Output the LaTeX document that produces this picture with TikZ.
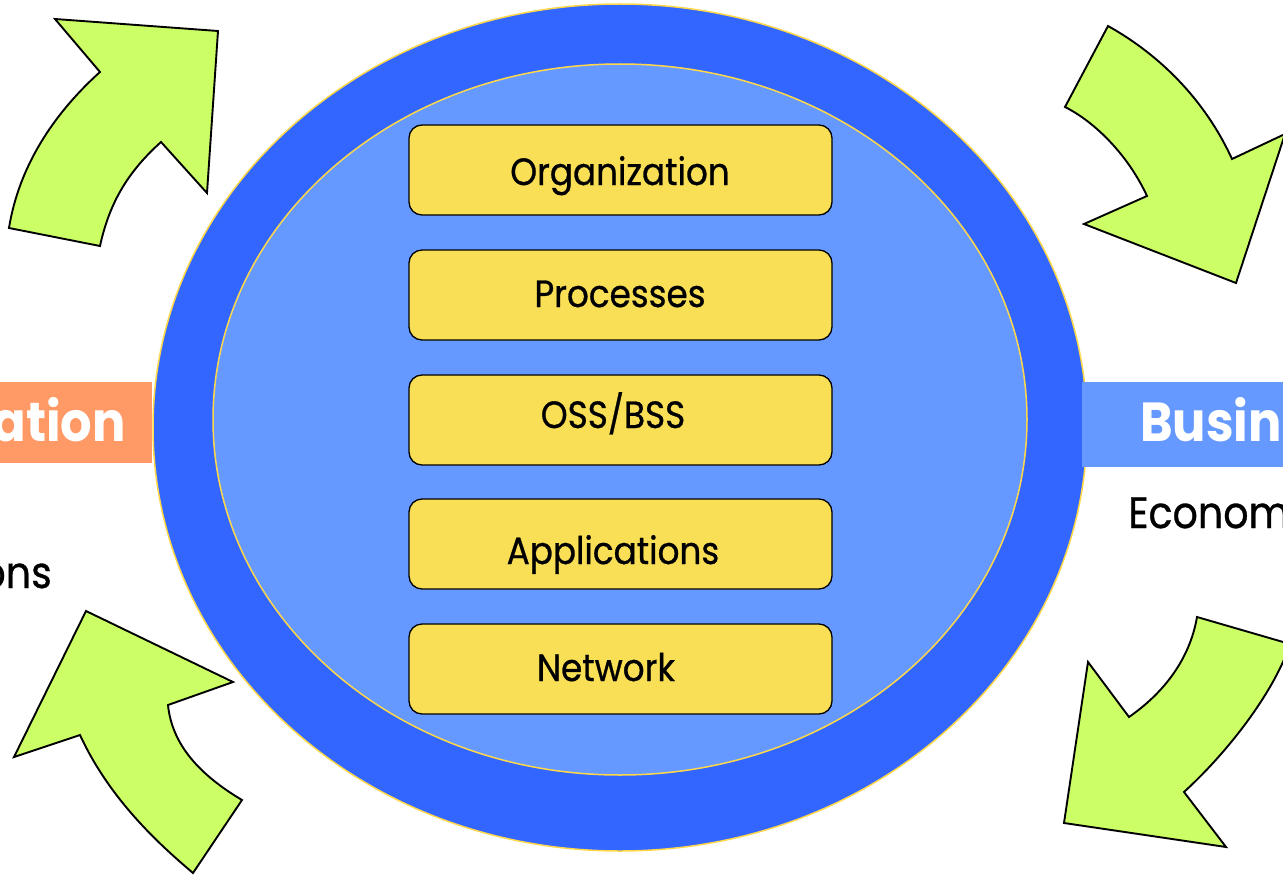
\documentclass[tikz,border=0pt]{standalone}
\usepackage{fontspec}
\setmainfont{Poppins}[FakeStretch=0.9]
\newfontfamily\layerfont{Poppins}[FakeStretch=0.9,FakeBold=0.7]
\definecolor{outerblue}{HTML}{3366FF}
\definecolor{innerblue}{HTML}{6699FF}
\definecolor{ringyellow}{HTML}{FFD84A}
\definecolor{boxyellow}{HTML}{F9DF55}
\definecolor{tagorange}{HTML}{FF9966}
\definecolor{arrowgreen}{HTML}{CCFF66}
\begin{document}
\begin{tikzpicture}[x=1pt,y=-1pt,
  layerbox/.style={draw=black, line width=1.3pt, fill=boxyellow, rounded corners=13pt,
    minimum width=423pt, minimum height=90pt, inner sep=0pt},
  layertext/.style={anchor=base, inner sep=0pt, font=\layerfont\fontsize{38}{44}\selectfont},
  tagbox/.style={draw=none, inner sep=0pt, anchor=north west},
  tagtext/.style={anchor=base, inner sep=0pt, text=white, font=\fontsize{55}{60}\selectfont\bfseries},
  sidetext/.style={anchor=base, inner sep=0pt, font=\layerfont\fontsize{44}{50}\selectfont},
  bigarrow/.style={fill=arrowgreen, draw=black, line width=1.9pt, line join=miter},
  ring/.style={draw=ringyellow, line width=1.5pt}]
\useasboundingbox (0,0) rectangle (1283,875);
\clip (0,0) rectangle (1283,875);

% left tag
\node[tagbox, fill=tagorange, minimum width=152pt, minimum height=81pt] (lefttag) at (0,382) {};
\node[tagtext, anchor=base east] (lefttxt) at (126,441) {ation};
\node[sidetext, anchor=base east] (leftsub) at (52,588) {ons};

% ellipses
\path[ring, fill=outerblue] (620,427.5) ellipse [x radius=467pt, y radius=423.5pt];
\path[ring, fill=innerblue] (620,419.5) ellipse [x radius=407pt, y radius=355.5pt];

% right tag
\node[tagbox, fill=innerblue, minimum width=210pt, minimum height=85pt] (righttag) at (1082,382) {};
\node[tagtext, anchor=base west] (righttxt) at (1140,441) {Busin};
\node[sidetext, anchor=base west] (rightsub) at (1128,528) {Econom};

% layer boxes
\node[layerbox] (org) at (620.5,170) {};
\node[layerbox] (proc) at (620.5,295) {};
\node[layerbox] (oss) at (620.5,420) {};
\node[layerbox] (app) at (620.5,544) {};
\node[layerbox] (net) at (620.5,669) {};
\node[layertext] (orgt) at (620,185) {Organization};
\node[layertext] (proct) at (620,307) {Processes};
\node[layertext] (osst) at (613,428) {OSS/BSS};
\node[layertext] (appt) at (613,564) {Applications};
\node[layertext] (nett) at (606,681) {Network};

% arrows
\draw[bigarrow] (9,228) -- (100,246)
  .. controls (110,200) and (130,170) .. (161,142)
  -- (207,193) -- (218,31) -- (55,19) -- (100,72)
  .. controls (60,108) and (20,160) .. (9,228) -- cycle;

\draw[bigarrow] (1108,26)
  .. controls (1160,55) and (1205,100) .. (1232,159)
  -- (1285,134) -- (1236,283) -- (1084,224) -- (1147,196)
  .. controls (1128,155) and (1095,122) .. (1065,107) -- cycle;

\draw[bigarrow] (86,611) -- (233,682) -- (168,705)
  .. controls (172,745) and (200,775) .. (242,800)
  -- (193,873)
  .. controls (160,845) and (110,800) .. (80,735)
  -- (14,757) -- cycle;

\draw[bigarrow] (1197,617) -- (1290,644)
  .. controls (1275,690) and (1230,750) .. (1184,792)
  -- (1226,847) -- (1064,823) -- (1088,662) -- (1129,717)
  .. controls (1165,692) and (1190,658) .. (1197,617) -- cycle;
\end{tikzpicture}
\end{document}
